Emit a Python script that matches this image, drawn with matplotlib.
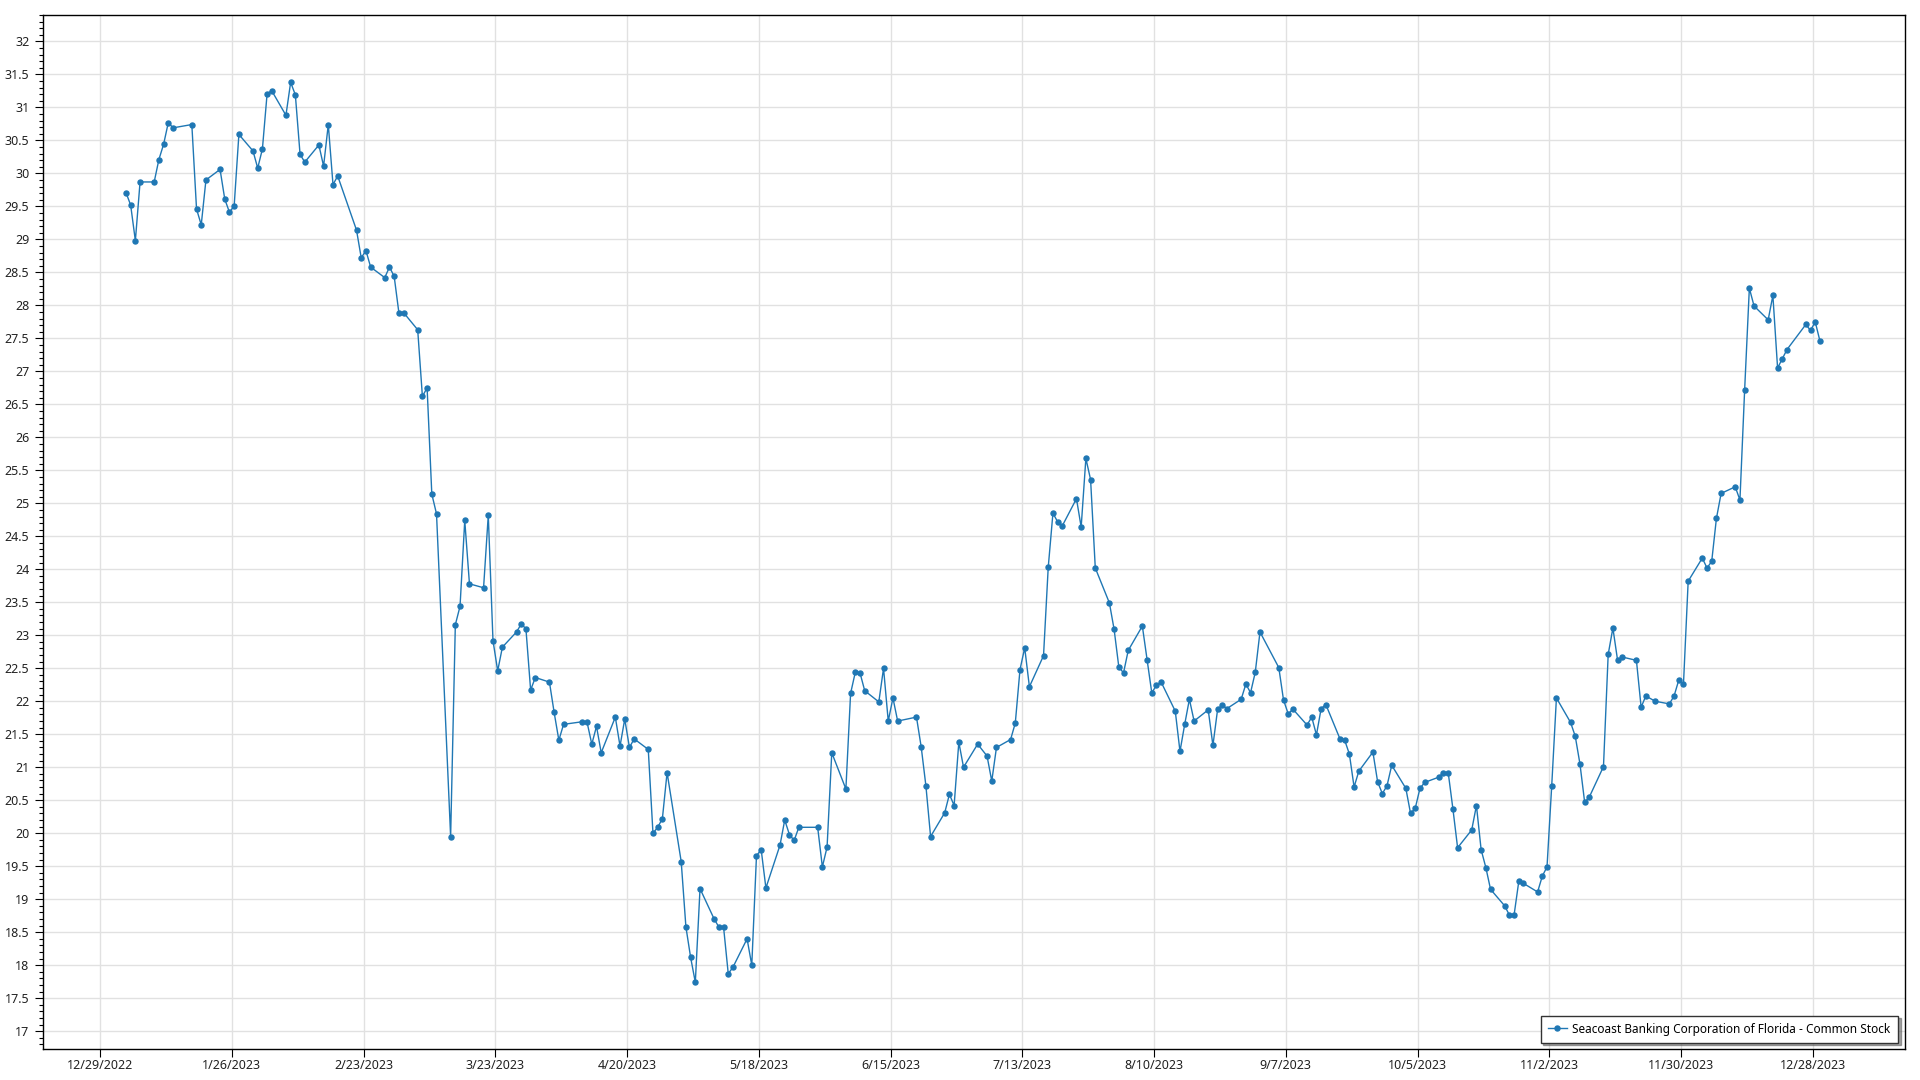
import pandas as pd
import numpy as np
import matplotlib
matplotlib.use("Agg")
import matplotlib.pyplot as plt
import matplotlib.ticker as mticker

# Seacoast Banking Corporation of Florida - daily close, 2023
jan = [29.71, 29.52, 28.98, 29.87, 29.87, 30.21, 30.44, 30.77, 30.69, 30.74,
       29.46, 29.22, 29.90, 30.06, 29.61, 29.41, 29.51, 30.59, 30.34, 30.08]
feb = [30.37, 31.21, 31.25, 30.88, 31.38, 31.19, 30.29, 30.17, 30.43, 30.11,
       30.74, 29.83, 29.96, 29.14, 28.72, 28.83, 28.58, 28.42, 28.58]
mar = [28.44, 27.89, 27.89, 27.63, 26.62, 26.75, 25.14, 24.84, 19.95, 23.16,
       23.44, 24.74, 23.78, 23.72, 24.82, 22.92, 22.46, 22.82, 23.05, 23.17,
       23.10, 22.17, 22.36]
apr = [22.29, 21.83, 21.41, 21.65, 21.69, 21.68, 21.35, 21.62, 21.22, 21.76,
       21.32, 21.73, 21.30, 21.43, 21.27, 20.00, 20.09, 20.22, 20.92]
may = [19.57, 18.58, 18.12, 17.74, 19.16, 18.70, 18.58, 18.58, 17.87, 17.97,
       18.40, 18.00, 19.66, 19.75, 19.17, 19.82, 20.20, 19.98, 19.89, 20.09,
       20.09, 19.49]
jun = [19.79, 21.22, 20.67, 22.12, 22.44, 22.43, 22.16, 21.99, 22.50, 21.70,
       22.05, 21.70, 21.76, 21.31, 20.72, 19.95, 20.31, 20.59, 20.42, 21.38,
       21.00]
jul = [21.35, 21.17, 20.79, 21.30, 21.42, 21.67, 22.48, 22.81, 22.22, 22.69,
       24.03, 24.85, 24.72, 24.66, 25.07, 24.64, 25.68, 25.36, 24.02, 23.49]
aug = [23.09, 22.52, 22.43, 22.77, 23.14, 22.63, 22.13, 22.24, 22.29, 21.85,
       21.24, 21.65, 22.03, 21.70, 21.87, 21.33, 21.88, 21.94, 21.89, 22.03,
       22.26, 22.13, 22.44]
sep = [23.05, 22.51, 22.02, 21.81, 21.88, 21.64, 21.76, 21.49, 21.89, 21.95,
       21.43, 21.41, 21.20, 20.70, 20.94, 21.23, 20.78, 20.60, 20.72, 21.03]
oct_ = [20.68, 20.30, 20.38, 20.68, 20.77, 20.85, 20.92, 20.92, 20.37, 19.78,
        20.05, 20.42, 19.75, 19.48, 19.15, 18.90, 18.76, 18.76, 19.27, 19.24,
        19.11, 19.35]
nov = [19.49, 20.72, 22.05, 21.68, 21.47, 21.05, 20.47, 20.55, 21.01, 22.71,
       23.11, 22.62, 22.67, 22.62, 21.91, 22.08, 22.00, 21.96, 22.08, 22.32,
       22.26]
dec = [23.82, 24.17, 24.02, 24.12, 24.77, 25.15, 25.25, 25.05, 26.72, 28.26,
       27.99, 27.78, 28.15, 27.05, 27.19, 27.33, 27.71, 27.62, 27.75, 27.46]

# NYSE holidays in 2023
holidays = ["2023-01-02", "2023-01-16", "2023-02-20", "2023-04-07", "2023-05-29",
            "2023-06-19", "2023-07-04", "2023-09-04", "2023-11-23", "2023-12-25"]

tick_labels = ["12/29/2022", "1/26/2023", "2/23/2023", "3/23/2023", "4/20/2023",
               "5/18/2023", "6/15/2023", "7/13/2023", "8/10/2023", "9/7/2023",
               "10/5/2023", "11/2/2023", "11/30/2023", "12/28/2023"]

series_name = "Seacoast Banking Corporation of Florida - Common Stock"

closes = jan + feb + mar + apr + may + jun + jul + aug + sep + oct_ + nov + dec
# trading days, stamped at midday
dates = pd.bdate_range("2023-01-03", "2023-12-29", freq="C", holidays=holidays)
dates = dates + pd.Timedelta(hours=12)

plt.rcParams["font.family"] = ["Noto Sans", "DejaVu Sans"]

fig = plt.figure(figsize=(19.2, 10.8), dpi=100)
ax = fig.add_axes([0.0222, 0.0287, 0.9700, 0.9574])

ax.plot(dates, closes, color="#1f77b4", linewidth=1.0, marker="o",
        markersize=3.6, label=series_name, zorder=3)

tick_dates = pd.to_datetime(tick_labels, format="%m/%d/%Y")
ax.set_xticks(tick_dates)
ax.set_xticklabels(tick_labels)
ax.set_xlim(pd.Timestamp("2022-12-16 19:00"), pd.Timestamp("2024-01-16 14:00"))

ax.set_ylim(16.73, 32.40)
ax.yaxis.set_major_locator(mticker.MultipleLocator(0.5))
ax.yaxis.set_minor_locator(mticker.MultipleLocator(0.1))
ax.yaxis.set_major_formatter(mticker.FuncFormatter(lambda v, p: f"{v:g}"))

ax.grid(True, which="major", color="#e1e1e1", linewidth=1.0, zorder=0)
ax.tick_params(axis="both", which="major", labelsize=9, length=6, width=0.8,
               colors="#000000", labelcolor="#222222")
ax.tick_params(axis="y", which="minor", length=3, width=0.8)
ax.tick_params(axis="x", pad=1.5)
for s in ax.spines.values():
    s.set_color("black")
    s.set_linewidth(1.0)

leg = ax.legend(loc="lower right", bbox_to_anchor=(0.9961, 0.0061), fontsize=8.5,
                frameon=True, fancybox=False, shadow=True, borderpad=0.6,
                handlelength=1.6, handletextpad=0.5, borderaxespad=0.0)
leg.get_frame().set_edgecolor("#333333")
leg.get_frame().set_linewidth(1.0)

fig.savefig("out.png", dpi=100)
